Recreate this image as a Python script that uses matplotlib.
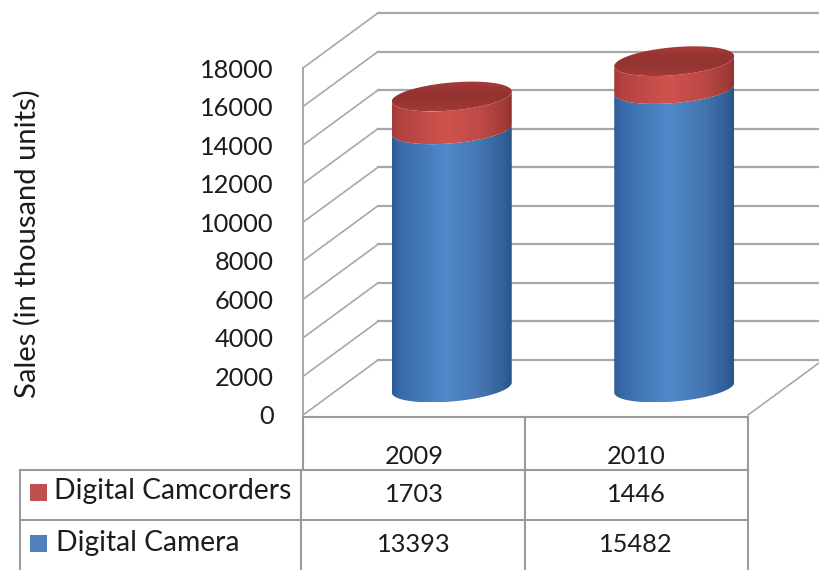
import numpy as np
import matplotlib
matplotlib.use('Agg')
import matplotlib.pyplot as plt
from matplotlib.colors import LinearSegmentedColormap
from matplotlib.patches import Polygon

# --- Data ---
years = ['2009', '2010']
camera = [13393, 15482]
camcorders = [1703, 1446]
yticks = [0, 2000, 4000, 6000, 8000, 10000, 12000, 14000, 16000, 18000]

W, H = 820, 570
plt.rcParams['font.family'] = ['Lato', 'DejaVu Sans']
TXT = '#1c1c1c'
GRID = '#a8a8a8'

fig = plt.figure(figsize=(W / 100, H / 100), dpi=100)

# overlay in pixels for the table frame, drawn under the chart axes
bg = fig.add_axes([0, 0, 1, 1])
bg.set_xlim(0, W)
bg.set_ylim(H, 0)
bg.axis('off')

# plot box: front plane of the 3D chart
X0, X1, Y0, Y1 = 303, 748, 415, 68
ax = fig.add_axes([X0 / W, 1 - Y0 / H, (X1 - X0) / W, (Y0 - Y1) / H])
ax.patch.set_alpha(0)
ax.set_xlim(0, 2)
ax.set_ylim(0, 18000)
for s in ax.spines.values():
    s.set_visible(False)

# one unit of depth, in data units
DX = 75 / ((X1 - X0) / 2)
DV = 55 * 18000 / (Y0 - Y1)

# --- Walls ---
for v in yticks:
    ax.plot([0, DX], [v, v + DV], color=GRID, lw=1.2, clip_on=False, zorder=1)
    ax.plot([DX, 2 + DX], [v + DV, v + DV], color=GRID, lw=1.6, clip_on=False, zorder=1)
ax.plot([0, 0], [0, 18000], color=GRID, lw=1.4, clip_on=False, zorder=1)
ax.plot([2, 2 + DX], [0, DV], color=GRID, lw=1.2, clip_on=False, zorder=1)

# --- Cylinders ---
HALF_W = 60 / ((X1 - X0) / 2)
HALF_H = 14 * 18000 / (Y0 - Y1)
TILT = 5 * 18000 / (Y0 - Y1)
t = np.linspace(0, 2 * np.pi, 200)

blue_cm = LinearSegmentedColormap.from_list('b', [
    (0, '#2c5c96'), (0.06, '#386aa8'), (0.45, '#5089cb'), (0.75, '#4475b0'), (0.95, '#2f5e95'), (1, '#2a5484')])
red_cm = LinearSegmentedColormap.from_list('r', [
    (0, '#a23a38'), (0.06, '#b34240'), (0.45, '#d0524e'), (0.75, '#bd4946'), (0.95, '#a03a38'), (1, '#8e3130')])
lid_cm = LinearSegmentedColormap.from_list('l', ['#a83c3a', '#953331', '#963432', '#a33a38'])


def gradient(poly, grad, cmap, z, extent):
    ax.add_patch(poly)
    im = ax.imshow(grad, cmap=cmap, aspect='auto', zorder=z, interpolation='bilinear', extent=extent)
    # the 2010 cylinder pokes out above the 18000 line, so no axes clipping
    im.set_clip_box(fig.bbox)
    im.set_clip_path(poly)


def side(xc, v0, v1, cmap, z):
    # front half of bottom ellipse, back along the front half of the top one
    a = np.linspace(np.pi, 2 * np.pi, 80)
    xs = xc + HALF_W * np.cos(a)
    low = v0 + HALF_H * np.sin(a) + TILT * np.cos(a)
    high = v1 + HALF_H * np.sin(a) + TILT * np.cos(a)
    pts = np.r_[np.c_[xs, low], np.c_[xs[::-1], high[::-1]]]
    poly = Polygon(pts, closed=True, facecolor='none', edgecolor='none', transform=ax.transData, clip_on=False)
    gradient(poly, np.linspace(0, 1, 256)[None, :], cmap, z,
             [xc - HALF_W, xc + HALF_W, low.min(), high.max()])


base_v = DV / 2
for i in range(len(years)):
    xc = i + 0.5 + DX / 2
    v1 = base_v + camera[i]
    v2 = v1 + camcorders[i]
    side(xc, base_v, v1, blue_cm, 3)
    side(xc, v1, v2, red_cm, 4)
    # top lid
    lx = xc + HALF_W * np.cos(t)
    ly = v2 + HALF_H * np.sin(t) + TILT * np.cos(t)
    lid = Polygon(np.c_[lx, ly], closed=True, facecolor='none', edgecolor='none',
                  transform=ax.transData, clip_on=False)
    gradient(lid, np.linspace(0, 1, 64)[:, None], lid_cm, 5,
             [lx.min(), lx.max(), ly.min(), ly.max()])

ax.set_xlim(0, 2)
ax.set_ylim(0, 18000)

# --- Axis text ---
ax.set_xticks([])
ax.set_yticks(yticks)
ax.tick_params(axis='y', length=0, pad=21, labelsize=18.3, labelcolor=TXT)
bg.text(27, 244, 'Sales (in thousand units)', rotation=90, ha='center', va='center',
        fontsize=21, color=TXT)

# --- Data table ---
LINE = '#9a9a9a'
bg.plot([303, 748], [417, 417], color=LINE, lw=1.5)
bg.plot([303, 303], [417, 470], color=LINE, lw=1.5)
bg.plot([525, 525], [417, H], color=LINE, lw=1.5)
bg.plot([748, 748], [417, H], color=LINE, lw=1.5)
bg.plot([301, 301], [470, H], color=LINE, lw=1.5)
bg.plot([20, 20], [470, H], color=LINE, lw=1.5)
bg.plot([20, 748], [470, 470], color=LINE, lw=1.5)
bg.plot([20, 748], [520, 520], color=LINE, lw=1.5)

col_c = [414, 636]
for i in range(len(years)):
    bg.text(col_c[i], 456, years[i], ha='center', va='center', fontsize=18.3, color=TXT)
    bg.text(col_c[i], 495, str(camcorders[i]), ha='center', va='center', fontsize=18.3, color=TXT)
    bg.text(col_c[i], 545, str(camera[i]), ha='center', va='center', fontsize=18.3, color=TXT)

bg.fill([30, 47, 47, 30], [484, 484, 501, 501], color='#c0504d', lw=0)
bg.fill([30, 47, 47, 30], [535, 535, 552, 552], color='#4f81bd', lw=0)
bg.text(54, 491, 'Digital Camcorders', ha='left', va='center', fontsize=20.3, color=TXT)
bg.text(56, 543, 'Digital Camera', ha='left', va='center', fontsize=20.3, color=TXT)

fig.savefig('out.png', dpi=100)
